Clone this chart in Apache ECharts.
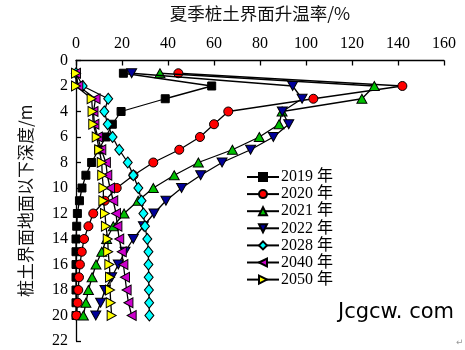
<!DOCTYPE html>
<html>
<head>
<meta charset="utf-8">
<script src="https://cdn.jsdelivr.net/npm/echarts@6/dist/echarts.min.js"></script>
<style>
  html, body { margin: 0; padding: 0; background: #fff; }
  #chart { width: 465px; height: 350px; }
</style>
</head>
<body>
<div id="chart"></div>
<script>
// Depth below the pile–soil interface ground surface (m)
const depths = [1, 2, 3, 4, 5, 6, 7, 8, 9, 10, 11, 12, 13, 14, 15, 16, 17, 18, 19, 20];

// Summer pile–soil interface temperature rise rate (%) per year
const rate2019 = [20.6, 59, 38.8, 19.6, 15.8, 13, 9.8, 6.8, 4.3, 2.6, 1.5, 0.6, 0.3, 0, 0, 0, 0, 0, 0, 0];
const rate2020 = [44.5, 141.9, 103.2, 66.2, 60, 53.9, 44.9, 33.6, 25, 17.7, 12.5, 7.5, 5.4, 3.5, 2.5, 1.7, 1.3, 1, 0.7, 0.2];
const rate2021 = [36.5, 129.7, 124.3, 89.6, 88.3, 79.7, 68, 53.2, 42.7, 33.6, 27, 20.9, 16.2, 13.3, 11.2, 8.7, 7, 5.4, 4.3, 3.2];
const rate2022 = [24.2, 94.2, 98.3, 89.7, 92.5, 85.8, 75.9, 63.5, 54.2, 45.9, 39.1, 33.9, 29.3, 24.9, 21.3, 18.4, 15.5, 12.6, 10.7, 8.6];
const rate2028 = [0, 2.9, 14, 12.3, 13.8, 15.9, 18.8, 22.5, 24.9, 27.1, 28.5, 29.3, 30, 31, 31.5, 31.5, 31.6, 31.7, 31.8, 31.9];
const rate2040 = [0, 1, 8.5, 7.6, 8, 9.5, 11, 13, 13.6, 14.8, 16.2, 17.4, 18, 18.8, 19.9, 20.6, 21.3, 22, 22.8, 24.2];
const rate2050 = [0, 0, 6.8, 7.2, 7.5, 9, 10.1, 11.2, 11.4, 11.9, 11.9, 12.6, 13, 13.8, 14, 14.5, 14.8, 14.8, 15.1, 15.5];

const seriesNames = ['2019 年', '2020 年', '2021 年', '2022 年', '2028 年', '2040 年', '2050 年'];
const xTicks = { min: 0, max: 160, interval: 20 };
const yTicks = { min: 0, max: 22, interval: 2 };

const serifFont = '"Liberation Serif", "Times New Roman", serif';
const cjkFont = '"Noto Sans CJK SC", sans-serif';

const styles = [
  { symbol: 'rect', size: 8, color: '#000000' },
  { symbol: 'circle', size: 9, color: '#ff0000' },
  { symbol: 'path://M5,0 L10,10 L0,10 Z', size: [10, 9], color: '#00c000' },
  { symbol: 'path://M0,0 L10,0 L5,10 Z', size: [10, 9], color: '#000099' },
  { symbol: 'diamond', size: [9, 11], color: '#00ffff' },
  { symbol: 'path://M0,5 L10,0 L10,10 Z', size: [9, 10], color: '#cc00cc' },
  { symbol: 'path://M0,0 L10,5 L0,10 Z', size: [9, 10], color: '#ffff00' }
];
const rates = [rate2019, rate2020, rate2021, rate2022, rate2028, rate2040, rate2050];

const series = rates.map((vals, i) => ({
  name: seriesNames[i],
  type: 'line',
  data: vals.map((v, k) => [v, depths[k]]),
  symbol: styles[i].symbol,
  symbolSize: styles[i].size,
  showAllSymbol: true,
  lineStyle: { color: '#000', width: 1.3 },
  itemStyle: { color: styles[i].color, borderColor: '#000', borderWidth: 1 },
  emphasis: { disabled: true },
  animation: false,
  z: 2 + i
}));

const chart = echarts.init(document.getElementById('chart'), null, { renderer: 'canvas' });
chart.setOption({
  backgroundColor: '#fff',
  animation: false,
  grid: { left: 76, top: 58, right: 21, bottom: 9, containLabel: false },
  xAxis: {
    type: 'value',
    position: 'top',
    min: xTicks.min, max: xTicks.max, interval: xTicks.interval,
    name: '夏季桩土界面升温率/%',
    nameLocation: 'middle',
    nameGap: 38,
    nameTextStyle: { fontFamily: cjkFont, fontSize: 17.5, color: '#111' },
    axisLine: { lineStyle: { color: '#000', width: 1.3 } },
    axisTick: { inside: true, length: 5, lineStyle: { color: '#000', width: 1.3 } },
    axisLabel: { fontFamily: serifFont, fontSize: 16, color: '#000', margin: 9 },
    splitLine: { show: false }
  },
  yAxis: {
    type: 'value',
    inverse: true,
    min: yTicks.min, max: yTicks.max, interval: yTicks.interval,
    name: '桩土界面地面以下深度/m',
    nameLocation: 'middle',
    nameRotate: 90,
    nameGap: 42,
    nameTextStyle: { fontFamily: cjkFont, fontSize: 17, color: '#111' },
    axisLine: { lineStyle: { color: '#000', width: 1.3 } },
    axisTick: { inside: true, length: 5, lineStyle: { color: '#000', width: 1.3 } },
    axisLabel: { fontFamily: serifFont, fontSize: 16, color: '#000', margin: 8 },
    splitLine: { show: false }
  },
  legend: {
    orient: 'vertical',
    left: 246,
    top: 169,
    itemWidth: 32,
    itemHeight: 10,
    itemGap: 1.1,
    padding: 0,
    selectedMode: false,
    textStyle: { fontFamily: serifFont + ', ' + cjkFont, fontSize: 16, lineHeight: 16, color: '#000', padding: [0, 0, 0, -3] },
    data: seriesNames
  },
  graphic: [
    {
      type: 'text',
      left: 338,
      top: 302,
      style: { text: 'Jcgcw. com', font: '21px "DejaVu Sans", Arial, sans-serif', fill: '#000' }
    },
    {
      type: 'text',
      left: 456,
      top: 338,
      style: { text: '↵', font: '9px "DejaVu Sans", sans-serif', fill: '#999' }
    }
  ],
  series: series
});
</script>
</body>
</html>
